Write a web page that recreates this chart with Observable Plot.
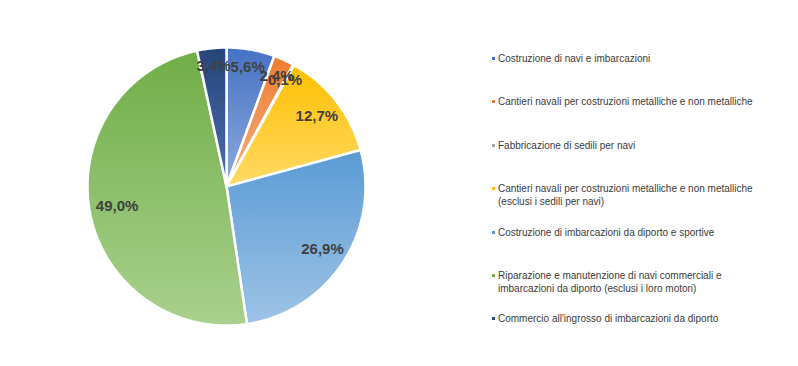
<!DOCTYPE html>
<html>
<head>
<meta charset="utf-8">
<script src="https://cdn.jsdelivr.net/npm/d3@7"></script>
<script src="https://cdn.jsdelivr.net/npm/@observablehq/plot@0.6"></script>
<style>
  html, body { margin: 0; padding: 0; background: #fff; }
  #wrap { position: relative; width: 798px; height: 366px; font-family: "Liberation Sans", Arial, sans-serif; }
  #legend { position: absolute; left: 492px; top: 52px; color: #3a3a3a; font-size: 10px; line-height: 13px; }
  .item { display: flex; align-items: flex-start; height: 43.4px; }
  .sw { width: 3px; height: 3px; margin-top: 5px; margin-right: 3px; flex: none; }
</style>
</head>
<body>
<div id="wrap"><div id="legend"></div></div>
<script>
const categories = [
  "Costruzione di navi e imbarcazioni",
  "Cantieri navali per costruzioni metalliche e non metalliche",
  "Fabbricazione di sedili per navi",
  "Cantieri navali per costruzioni metalliche e non metalliche (esclusi i sedili per navi)",
  "Costruzione di imbarcazioni da diporto e sportive",
  "Riparazione e manutenzione di navi commerciali e imbarcazioni da diporto (esclusi i loro motori)",
  "Commercio all'ingrosso di imbarcazioni da diporto"
];
const legendLines = [
  ["Costruzione di navi e imbarcazioni"],
  ["Cantieri navali per costruzioni metalliche e non metalliche"],
  ["Fabbricazione di sedili per navi"],
  ["Cantieri navali per costruzioni metalliche e non metalliche", "(esclusi i sedili per navi)"],
  ["Costruzione di imbarcazioni da diporto e sportive"],
  ["Riparazione e manutenzione di navi commerciali e", "imbarcazioni da diporto (esclusi i loro motori)"],
  ["Commercio all'ingrosso di imbarcazioni da diporto"]
];
const values = [5.6, 2.4, 0.1, 12.7, 26.9, 49.0, 3.4];
const labels = ["5,6%", "2,4%", "0,1%", "12,7%", "26,9%", "49,0%", "3,4%"];
const colorsTop = ["#4472C4", "#ED7D31", "#A5A5A5", "#FFC000", "#5B9BD5", "#70AD47", "#264478"];
const colorsBottom = ["#8FAADC", "#F4B183", "#C9C9C9", "#FFD966", "#9DC3E6", "#A9D18E", "#4A6FB0"];

// pie geometry from values
const arcs = d3.pie().sort(null).value(d => d)(values);
const slices = arcs.map((a) => {
  const n = Math.max(2, Math.ceil((a.endAngle - a.startAngle) / 0.01));
  const pts = [{x: 0, y: 0}];
  for (let k = 0; k <= n; k++) {
    const t = a.startAngle + (a.endAngle - a.startAngle) * k / n;
    pts.push({x: Math.sin(t), y: Math.cos(t)});
  }
  pts.push({x: 0, y: 0});
  return pts;
});
// best-fit style: small slices get labels further out
const labelData = arcs.map((a, i) => {
  const m = (a.startAngle + a.endAngle) / 2;
  const r = values[i] < 10 ? 0.87 : (values[i] > 40 ? 0.8 : 0.825);
  return {x: r * Math.sin(m), y: r * Math.cos(m), label: labels[i]};
});

const defsMark = () => {
  const defs = d3.create("svg:defs");
  colorsTop.forEach((c, i) => {
    const g = defs.append("linearGradient").attr("id", "g" + i)
      .attr("x1", 0).attr("y1", 0).attr("x2", 0).attr("y2", 1);
    g.append("stop").attr("offset", "0%").attr("stop-color", c);
    g.append("stop").attr("offset", "100%").attr("stop-color", colorsBottom[i]);
  });
  return defs.node();
};

const R = 139, cx = 226, cy = 186;
const plot = Plot.plot({
  width: 798,
  height: 366,
  marginLeft: cx - R,
  marginRight: 798 - (cx + R),
  marginTop: cy - R,
  marginBottom: 366 - (cy + R),
  x: {domain: [-1, 1], axis: null},
  y: {domain: [-1, 1], axis: null},
  style: {fontFamily: "'Liberation Sans', Arial, sans-serif", background: "transparent"},
  marks: [
    defsMark,
    ...slices.map((pts, i) => Plot.line(pts, {
      x: "x", y: "y", fill: `url(#g${i})`, stroke: "white", strokeWidth: 2.5, strokeLinejoin: "miter"
    })),
    Plot.text(labelData, {
      x: "x", y: "y", text: "label", fontSize: 15, fontWeight: "bold", fill: "#404040"
    })
  ]
});
document.getElementById("wrap").prepend(plot);
plot.style.position = "absolute";
plot.style.left = "0";
plot.style.top = "0";

const legend = d3.select("#legend");
legendLines.forEach((lines, i) => {
  const it = legend.append("div").attr("class", "item");
  it.append("div").attr("class", "sw").style("background", colorsTop[i]);
  const t = it.append("div");
  lines.forEach(l => t.append("div").text(l));
});
</script>
</body>
</html>
